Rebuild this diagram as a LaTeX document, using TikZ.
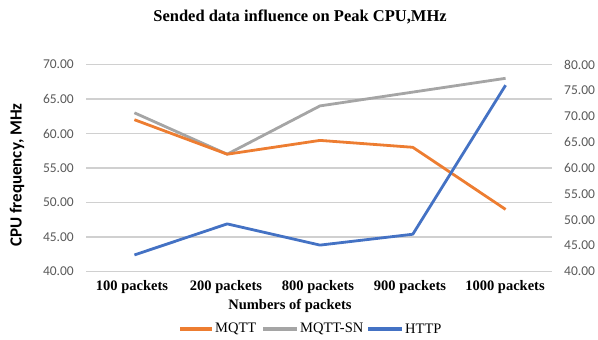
\documentclass[tikz,border=0pt]{standalone}
\usepackage{fontspec}
\setmainfont{Liberation Serif}
\newfontfamily\calib{Carlito}
\definecolor{cOrange}{HTML}{ED7D31}
\definecolor{cGray}{HTML}{A5A5A5}
\definecolor{cBlue}{HTML}{4472C4}
\definecolor{cGrid}{HTML}{D0D0D0}
\definecolor{cTick}{HTML}{595959}
\begin{document}
\begin{tikzpicture}[x=1pt,y=-1pt,
  gridline/.style={draw=cGrid,line width=1.2pt},
  ticklbl/.style={font=\calib\fontsize{13.5}{13.5}\selectfont,text=cTick,inner sep=0pt},
  catlbl/.style={font=\bfseries\fontsize{14.5}{14.5}\selectfont,inner sep=0pt},
  series/.style={line width=2.8pt,line join=round},
  leglbl/.style={font=\fontsize{14.5}{14.5}\selectfont,anchor=west,inner sep=0pt}]
\useasboundingbox (0,0) rectangle (598,340);
% title
\node[font=\bfseries\fontsize{16.5}{16.5}\selectfont] (title) at (300,17) {Sended data influence on Peak CPU,MHz};
% grid and left ticks
\foreach \v in {40,45,...,70}{
  \draw[gridline] (86,{64.5+(70-\v)*6.9}) -- (552,{64.5+(70-\v)*6.9});
  \node[ticklbl,anchor=east] at (74,{64.5+(70-\v)*6.9}) {\v.00};
}
% right ticks
\foreach \v in {40,45,...,80}{
  \node[ticklbl,anchor=west] at (564,{64.5+(80-\v)*5.175}) {\v.00};
}
% y title
\node[font=\calib\bfseries\fontsize{17}{17}\selectfont,rotate=90] (ytitle) at (17,175) {CPU frequency, MHz};
% categories
\node[catlbl] (c1) at (132,287) {100 packets};
\node[catlbl] (c2) at (226,287) {200 packets};
\node[catlbl] (c3) at (318,287) {800 packets};
\node[catlbl] (c4) at (410,287) {900 packets};
\node[catlbl] (c5) at (505,287) {1000 packets};
\node[catlbl] (xtitle) at (290,306) {Numbers of packets};
% series
\draw[series,cGray] (134.4,{64.5+(70-63)*6.9}) -- (227.2,{64.5+(70-57)*6.9}) -- (320,{64.5+(70-64)*6.9}) -- (412.8,{64.5+(70-66)*6.9}) -- (505.6,{64.5+(70-68)*6.9});
\draw[series,cOrange] (134.4,{64.5+(70-62)*6.9}) -- (227.2,{64.5+(70-57)*6.9}) -- (320,{64.5+(70-59)*6.9}) -- (412.8,{64.5+(70-58)*6.9}) -- (505.6,{64.5+(70-49)*6.9});
\draw[series,cBlue] (134.4,{64.5+(80-43.2)*5.175}) -- (227.2,{64.5+(80-49.2)*5.175}) -- (320,{64.5+(80-45.1)*5.175}) -- (412.8,{64.5+(80-47.2)*5.175}) -- (505.6,{64.5+(80-76)*5.175});
% legend
\draw[series,line width=3.2pt,cOrange] (180,329) -- (212,329);
\node[leglbl] (l1) at (215,329) {MQTT};
\draw[series,line width=3.2pt,cGray] (263,329) -- (297,329);
\node[leglbl] (l2) at (300,329) {MQTT-SN};
\draw[series,line width=3.2pt,cBlue] (368,329) -- (402,329);
\node[leglbl] (l3) at (405,329) {HTTP};
\end{tikzpicture}
\end{document}
